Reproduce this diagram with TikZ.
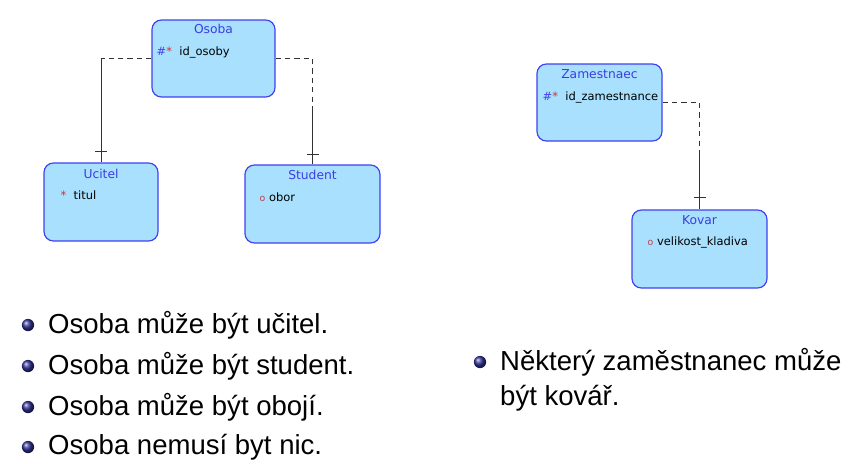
\documentclass[tikz,border=0pt]{standalone}
\usepackage{fontspec}
\setmainfont{DejaVu Sans}
\newfontfamily\itemfont{Liberation Sans}
\usepackage{xcolor}
\usepackage{tikz}
\usetikzlibrary{positioning,calc}

\definecolor{entfill}{RGB}{168,224,253}
\definecolor{entdraw}{RGB}{64,64,240}
\definecolor{enttitle}{RGB}{60,60,230}
\definecolor{keyred}{RGB}{230,40,40}
\definecolor{optred}{RGB}{200,60,80}
\definecolor{ballblue}{RGB}{50,50,150}
\definecolor{linegray}{RGB}{50,50,50}

\tikzset{
  entity/.style={draw=entdraw, fill=entfill, line width=1pt, rounded corners=8pt, inner sep=0pt},
  enttitle/.style={text=enttitle, font=\fontsize{10.5}{12}\selectfont, inner sep=0pt},
  attr/.style={font=\fontsize{9.8}{12}\selectfont, anchor=west, inner sep=0pt},
  rel/.style={draw=linegray, line width=0.8pt},
  opt/.style={rel, dash pattern=on 4.5pt off 3.5pt},
  bullet/.style={circle, shading=ball, ball color=ballblue, minimum size=10.5pt, inner sep=0pt},
  item/.style={font=\itemfont\fontsize{23.5}{28}\selectfont, anchor=west, inner sep=0pt}
}

\begin{document}
\begin{tikzpicture}[x=0.03cm, y=-0.03cm]
    \useasboundingbox (0,0) rectangle (854,463);

    % Osoba
    \node[entity, minimum width=123*0.03cm, minimum height=77*0.03cm] (osoba) at (213.5,58.5) {};
    \node[enttitle, below=8.5pt of osoba.north, anchor=center] (osobaT) {Osoba};
    \node[attr] (osobaA) at ($(osoba.north west)+(5,33)$) {{\color{entdraw}\#}{\color{keyred}*}\ \ id\_osoby};

    % Ucitel
    \node[entity, minimum width=114*0.03cm, minimum height=78*0.03cm] (ucitel) at (101,202) {};
    \node[enttitle, below=10pt of ucitel.north, anchor=center] (ucitelT) {Ucitel};
    \node[attr] (ucitelA) at ($(ucitel.north west)+(17,33)$) {{\color{keyred}*}\ \ titul};

    % Student
    \node[entity, minimum width=135*0.03cm, minimum height=78*0.03cm] (student) at (312.5,204) {};
    \node[enttitle, below=9pt of student.north, anchor=center] (studentT) {Student};
    \node[attr] (studentA) at ($(student.north west)+(15,33)$) {{\color{optred}\footnotesize o}\ obor};

    % Zamestnaec
    \node[entity, minimum width=125*0.03cm, minimum height=77*0.03cm] (zam) at (599.5,102.5) {};
    \node[enttitle, below=9pt of zam.north, anchor=center] (zamT) {Zamestnaec};
    \node[attr] (zamA) at ($(zam.north west)+(6,34)$) {{\color{entdraw}\#}{\color{keyred}*}\ \ id\_zamestnance};

    % Kovar
    \node[entity, minimum width=135*0.03cm, minimum height=78*0.03cm] (kovar) at (699.5,249) {};
    \node[enttitle, below=9pt of kovar.north, anchor=center] (kovarT) {Kovar};
    \node[attr] (kovarA) at ($(kovar.north west)+(16,33)$) {{\color{optred}\footnotesize o}\ velikost\_kladiva};

    % Relationships
    \coordinate (c1) at (osoba.west -| ucitel.north);
    \draw[opt] (osoba.west) -- (c1);
    \draw[rel] (c1) -- (ucitel.north);
    \draw[rel] ($(ucitel.north)+(-6,-11)$) -- ($(ucitel.north)+(6,-11)$);

    \coordinate (c2) at (osoba.east -| student.north);
    \coordinate (c2m) at ($(c2)+(0,49)$);
    \draw[opt] (osoba.east) -- (c2) -- (c2m);
    \draw[rel] (c2m) -- (student.north);
    \draw[rel] ($(student.north)+(-6,-10)$) -- ($(student.north)+(6,-10)$);

    \coordinate (c3) at (zam.east -| kovar.north);
    \coordinate (c3m) at ($(c3)+(0,48)$);
    \draw[opt] (zam.east) -- (c3) -- (c3m);
    \draw[rel] (c3m) -- (kovar.north);
    \draw[rel] ($(kovar.north)+(-6,-12)$) -- ($(kovar.north)+(6,-12)$);

    % Statements
    \node[bullet] (b1) at (28,325) {};
    \node[item] (t1) at (48,325) {Osoba může být učitel.};
    \node[bullet] (b2) at (28,366) {};
    \node[item] (t2) at (48,366) {Osoba může být student.};
    \node[bullet] (b3) at (28,407) {};
    \node[item] (t3) at (48,407) {Osoba může být obojí.};
    \node[bullet] (b4) at (28,447) {};
    \node[item] (t4) at (48,447) {Osoba nemusí byt nic.};

    \node[bullet] (b5) at (480,362) {};
    \node[item] (t5) at (500,362) {Některý zaměstnanec může};
    \node[item] (t6) at (500,398) {být kovář.};
\end{tikzpicture}
\end{document}
